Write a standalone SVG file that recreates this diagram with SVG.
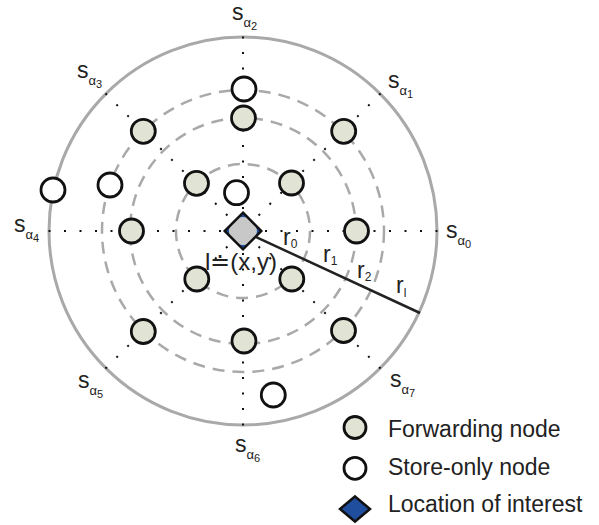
<svg xmlns="http://www.w3.org/2000/svg" width="599" height="525" viewBox="0 0 599 525">
<style>
.ring{fill:none;stroke:#a9a9a9;stroke-width:2.5;stroke-dasharray:12 8}
.outer{fill:none;stroke:#a9a9a9;stroke-width:3}
.spoke{stroke:#111;stroke-width:2;stroke-dasharray:2 13.5;fill:none}
.fwd{fill:#e1e4d5;stroke:#111;stroke-width:2.8}
.sto{fill:#fff;stroke:#111;stroke-width:2.8}
.t{font-family:"Liberation Sans",Arial,sans-serif;fill:#222}
.s{font-size:23px}
.a{font-size:13px}
.d{font-size:11px}
.r{font-size:23px}
.rs{font-size:12px}
.lg{font-size:23px}
</style>
<rect width="599" height="525" fill="#fff"/>
<g id="rings">
<circle class="outer" cx="243" cy="231" r="194"/>
<circle class="ring" cx="243" cy="231" r="67"/>
<circle class="ring" cx="243" cy="231" r="113"/>
<circle class="ring" cx="243" cy="231" r="141"/>
</g>
<g id="connectors">
<line class="spoke" x1="437.5" y1="231" x2="265" y2="231"/>
<line class="spoke" x1="380.53" y1="93.47" x2="258.56" y2="215.44"/>
<line class="spoke" x1="243" y1="36.5" x2="243" y2="209"/>
<line class="spoke" x1="105.47" y1="93.47" x2="227.44" y2="215.44"/>
<line class="spoke" x1="48.5" y1="231" x2="221" y2="231"/>
<line class="spoke" x1="105.47" y1="368.53" x2="227.44" y2="246.56"/>
<line class="spoke" x1="243" y1="425.5" x2="243" y2="253"/>
<line class="spoke" x1="380.53" y1="368.53" x2="258.56" y2="246.56"/>
<line x1="243" y1="231" x2="420" y2="313" stroke="#222" stroke-width="2.5"/>
</g>
<g id="forwarding-nodes">
<circle id="f-nw" class="fwd" cx="143.3" cy="131.3" r="12"/>
<circle id="f-ne" class="fwd" cx="343.7" cy="131.3" r="12"/>
<circle id="f-n" class="fwd" cx="243.5" cy="118" r="12"/>
<circle id="f-inw" class="fwd" cx="196.5" cy="183.3" r="12"/>
<circle id="f-ine" class="fwd" cx="291.5" cy="183" r="12"/>
<circle id="f-w" class="fwd" cx="131.5" cy="231" r="12"/>
<circle id="f-e" class="fwd" cx="356.5" cy="231" r="12"/>
<circle id="f-isw" class="fwd" cx="196.8" cy="279" r="12"/>
<circle id="f-ise" class="fwd" cx="291.8" cy="279" r="12"/>
<circle id="f-s" class="fwd" cx="244" cy="341" r="12"/>
<circle id="f-sw" class="fwd" cx="143.3" cy="331.5" r="12"/>
<circle id="f-se" class="fwd" cx="343.5" cy="330.5" r="12"/>
</g>
<g id="store-nodes">
<circle id="s-n" class="sto" cx="244" cy="89" r="12"/>
<circle id="s-c" class="sto" cx="236.5" cy="192.7" r="12"/>
<circle id="s-w1" class="sto" cx="110" cy="185" r="12"/>
<circle id="s-w2" class="sto" cx="53" cy="190" r="12"/>
<circle id="s-s" class="sto" cx="273.3" cy="395" r="12"/>
</g>
<g id="location">
<polygon points="243,212.7 261.3,231 243,249.3 224.7,231" fill="#1f4e9e"/>
<circle cx="243" cy="231" r="14" fill="#c8c8c8"/>
<polygon points="243,212.7 261.3,231 243,249.3 224.7,231" fill="none" stroke="#111" stroke-width="2.5" stroke-linejoin="miter"/>
<text class="t" x="205" y="270" font-size="24" fill="#333">l≐(x,y)</text>
</g>
<g id="radius-labels">
<text class="t r" x="283" y="245">r<tspan class="rs" dy="3">0</tspan></text>
<text class="t r" x="323" y="262">r<tspan class="rs" dy="3">1</tspan></text>
<text class="t r" x="357" y="278">r<tspan class="rs" dy="3">2</tspan></text>
<text class="t r" x="396" y="293">r<tspan class="rs" dy="4">l</tspan></text>
</g>
<g id="sector-labels">
<text class="t s" x="446" y="238">s<tspan class="a" dy="7">α</tspan><tspan class="d" dy="3">0</tspan></text>
<text class="t s" x="388" y="88">s<tspan class="a" dy="7">α</tspan><tspan class="d" dy="3">1</tspan></text>
<text class="t s" x="232" y="20">s<tspan class="a" dy="7">α</tspan><tspan class="d" dy="3">2</tspan></text>
<text class="t s" x="77" y="78">s<tspan class="a" dy="7">α</tspan><tspan class="d" dy="3">3</tspan></text>
<text class="t s" x="14" y="232">s<tspan class="a" dy="7">α</tspan><tspan class="d" dy="3">4</tspan></text>
<text class="t s" x="78" y="388">s<tspan class="a" dy="7">α</tspan><tspan class="d" dy="3">5</tspan></text>
<text class="t s" x="235" y="452">s<tspan class="a" dy="7">α</tspan><tspan class="d" dy="3">6</tspan></text>
<text class="t s" x="390" y="387">s<tspan class="a" dy="7">α</tspan><tspan class="d" dy="3">7</tspan></text>
</g>
<g id="legend">
<circle class="fwd" cx="355" cy="427.5" r="11"/>
<text class="t lg" x="388" y="436.5">Forwarding node</text>
<circle class="sto" cx="355" cy="468.3" r="11"/>
<text class="t lg" x="388" y="475">Store-only node</text>
<polygon points="355,496.5 370,509 355,521.5 340,509" fill="#1f4e9e" stroke="#111" stroke-width="2.5"/>
<text class="t lg" x="388" y="512">Location of interest</text>
</g>
</svg>
